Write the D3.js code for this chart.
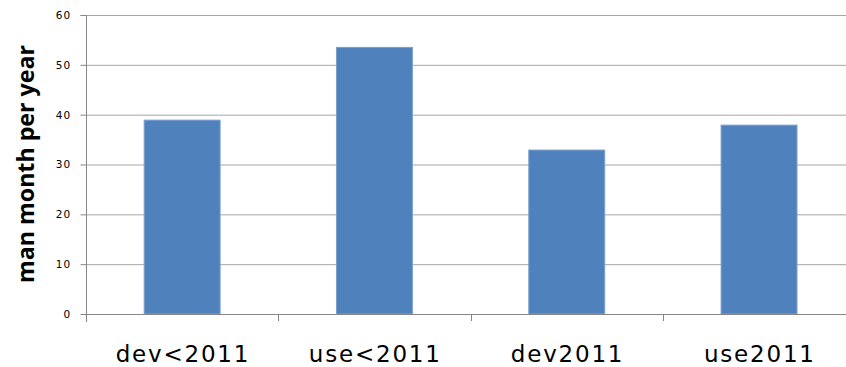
<!DOCTYPE html>
<html>
<head>
<meta charset="utf-8">
<script src="https://cdn.jsdelivr.net/npm/d3@7"></script>
<style>
  html, body { margin: 0; padding: 0; background: #fff; }
  svg { display: block; }
</style>
</head>
<body>
<svg id="chart" width="846" height="367"></svg>
<script>
// Effort per category, in man-months per year
const categories = ["dev<2011", "use<2011", "dev2011", "use2011"];
const values = [39, 53.6, 33, 38];
const yTicks = [0, 10, 20, 30, 40, 50, 60];

const svg = d3.select("#chart");
const plotLeft = 86, plotTop = 15, plotBottom = 314, bandStep = 192.3;

const x = d3.scaleBand()
  .domain(categories)
  .range([plotLeft, plotLeft + bandStep * categories.length])
  .paddingInner(0.6)
  .paddingOuter(0.3);

const y = d3.scaleLinear().domain([0, 60]).range([plotBottom, plotTop]);

// Horizontal gridlines
svg.append("g")
  .selectAll("line")
  .data(yTicks.filter(d => d > 0))
  .join("line")
  .attr("x1", plotLeft).attr("x2", 846)
  .attr("y1", d => y(d) + 0.5).attr("y2", d => y(d) + 0.5)
  .attr("stroke", "#a6a6a6").attr("stroke-width", 1);

// Bars
svg.append("g")
  .selectAll("rect")
  .data(categories.map((c, i) => ({ c, v: values[i] })))
  .join("rect")
  .attr("x", d => x(d.c) + 0.5)
  .attr("y", d => y(d.v) + 0.5)
  .attr("width", x.bandwidth() - 1)
  .attr("height", d => y(0) - y(d.v) - 0.5)
  .attr("fill", "#4f81bd")
  .attr("stroke", "#7a9fd0").attr("stroke-width", 1);

// Y axis
const yAxis = d3.axisLeft(y).tickValues(yTicks).tickSize(6).tickPadding(9);
const gy = svg.append("g").attr("transform", `translate(${plotLeft + 0.5},0)`).call(yAxis);
gy.select(".domain").attr("stroke", "#868686").attr("d", `M-6,${plotTop + 0.5}H0V${plotBottom + 8}`);
gy.selectAll(".tick line").attr("stroke", "#868686");
gy.selectAll(".tick text")
  .attr("font-family", "'DejaVu Sans', sans-serif")
  .attr("font-size", 10.5)
  .attr("letter-spacing", 1.2)
  .attr("fill", "#000");

// X axis line with boundary ticks between categories
const xBounds = d3.range(categories.length + 1).map(i => plotLeft + i * bandStep);
svg.append("line")
  .attr("x1", plotLeft).attr("x2", 846)
  .attr("y1", plotBottom + 0.5).attr("y2", plotBottom + 0.5)
  .attr("stroke", "#868686");
svg.append("g")
  .selectAll("line")
  .data(xBounds)
  .join("line")
  .attr("x1", d => Math.round(d) + 0.5).attr("x2", d => Math.round(d) + 0.5)
  .attr("y1", plotBottom).attr("y2", plotBottom + 7)
  .attr("stroke", "#868686");

// Category labels
svg.append("g")
  .selectAll("text")
  .data(categories)
  .join("text")
  .attr("x", d => x(d) + x.bandwidth() / 2 + 0.8)
  .attr("y", 361.5)
  .attr("text-anchor", "middle")
  .attr("font-family", "'DejaVu Sans', sans-serif")
  .attr("font-size", 23)
  .attr("letter-spacing", 1.8)
  .attr("fill", "#000")
  .text(d => d);

// Y axis title
svg.append("text")
  .attr("transform", `translate(34,${(45 + 283) / 2}) rotate(-90)`)
  .attr("text-anchor", "middle")
  .attr("font-family", "'Open Sans', sans-serif")
  .attr("font-weight", "bold")
  .attr("font-size", 24)
  .attr("textLength", 238)
  .attr("lengthAdjust", "spacingAndGlyphs")
  .attr("fill", "#000")
  .text("man month per year");
</script>
</body>
</html>
